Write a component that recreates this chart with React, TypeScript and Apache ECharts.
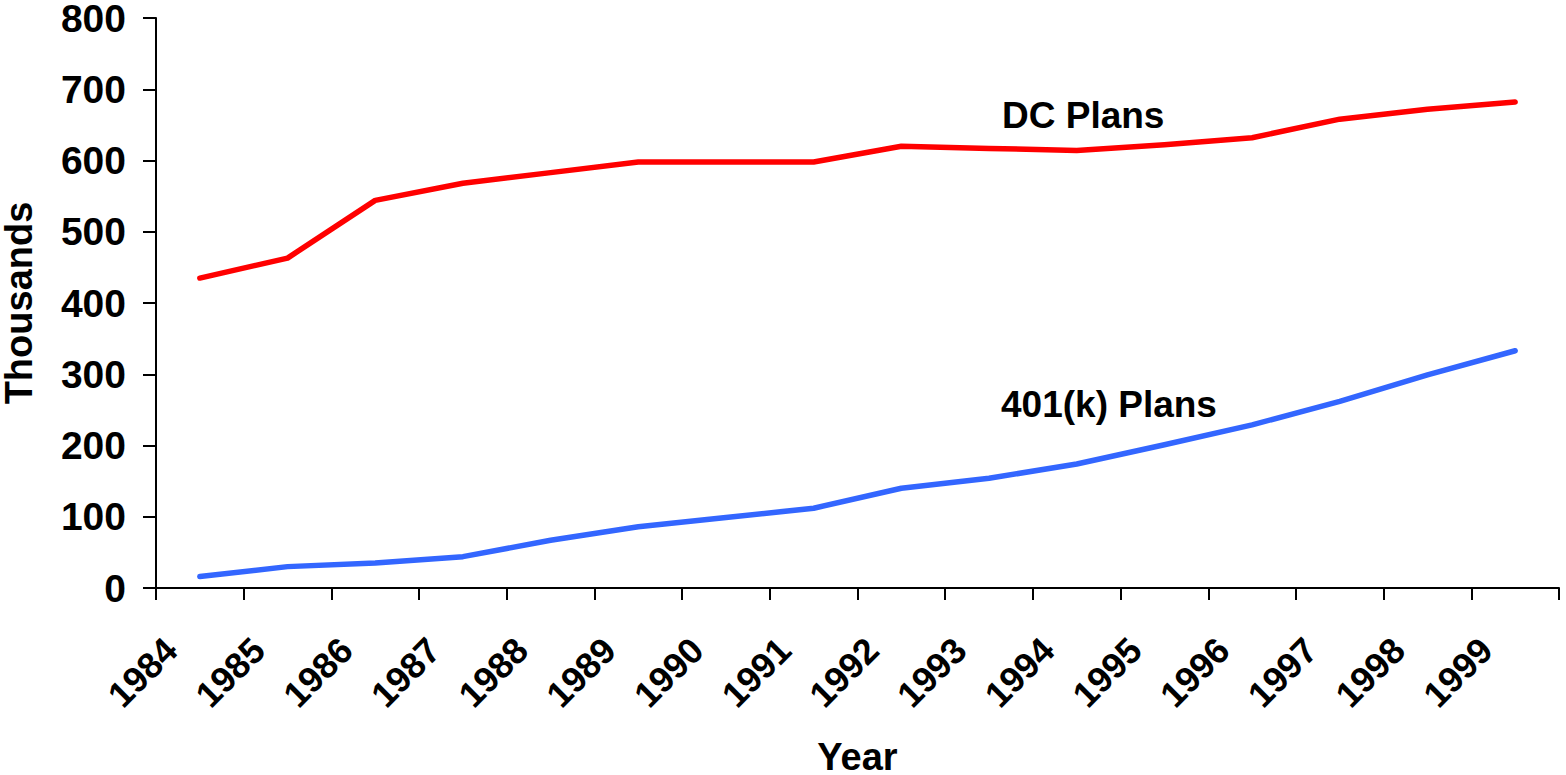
import React, { useEffect, useRef } from "react";
import * as echarts from "echarts";

const years = ["1984","1985","1986","1987","1988","1989","1990","1991","1992","1993","1994","1995","1996","1997","1998","1999"];
const dcPlans = [435, 463, 544, 568, 583, 598, 598, 598, 620, 617, 614, 622, 632, 658, 672, 682];
const k401Plans = [16, 30, 35, 44, 67, 86, 99, 112, 140, 154, 174, 201, 229, 262, 299, 333];
const yTicks = { min: 0, max: 800, interval: 100 };
const seriesLabels = { dc: "DC Plans", k401: "401(k) Plans" };

const FONT = "Arial, 'Liberation Sans', Helvetica, sans-serif";

export default function App() {
  const ref = useRef<HTMLDivElement>(null);
  useEffect(() => {
    if (!ref.current) return;
    const chart = echarts.init(ref.current, null, { renderer: "svg" });
    chart.setOption({
      animation: false,
      backgroundColor: "#ffffff",
      grid: { left: 156, right: 7, top: 18, bottom: 187, containLabel: false, outerBoundsMode: "none" },
      xAxis: {
        type: "category",
        data: years,
        boundaryGap: true,
        name: "Year",
        nameLocation: "middle",
        nameGap: 150,
        nameTextStyle: { fontFamily: FONT, fontWeight: "bold", fontSize: 38, color: "#000" },
        axisLine: { lineStyle: { color: "#000", width: 2 } },
        axisTick: { show: true, length: 12, lineStyle: { color: "#000", width: 2 } },
        axisLabel: {
          rotate: 45,
          margin: 27,
          padding: [0, 41, 0, 0],
          fontFamily: FONT,
          fontWeight: "bold",
          fontSize: 36,
          color: "#000",
          interval: 0,
        },
        splitLine: { show: false },
      },
      yAxis: {
        type: "value",
        min: yTicks.min,
        max: yTicks.max,
        interval: yTicks.interval,
        name: "Thousands",
        nameLocation: "middle",
        nameGap: 118,
        nameRotate: 90,
        nameTextStyle: { fontFamily: FONT, fontWeight: "bold", fontSize: 38, color: "#000" },
        axisLine: { show: true, lineStyle: { color: "#000", width: 2 } },
        axisTick: { show: true, length: 13, lineStyle: { color: "#000", width: 2 } },
        axisLabel: { margin: 30, fontFamily: FONT, fontWeight: "bold", fontSize: 39, color: "#000" },
        splitLine: { show: false },
      },
      series: [
        {
          name: seriesLabels.dc,
          type: "line",
          data: dcPlans,
          symbol: "none",
          lineStyle: { color: "#FF0000", width: 5.5, cap: "round", join: "round" },
          itemStyle: { color: "#FF0000" },
        },
        {
          name: seriesLabels.k401,
          type: "line",
          data: k401Plans,
          symbol: "none",
          lineStyle: { color: "#3366FF", width: 5.5, cap: "round", join: "round" },
          itemStyle: { color: "#3366FF" },
        },
      ],
      graphic: [
        {
          type: "text",
          left: 1002,
          top: 97,
          style: { text: seriesLabels.dc, fontFamily: FONT, fontWeight: "bold", fontSize: 37, fill: "#000" },
        },
        {
          type: "text",
          left: 1001,
          top: 386,
          style: { text: seriesLabels.k401, fontFamily: FONT, fontWeight: "bold", fontSize: 37, fill: "#000" },
        },
      ],
    });
    return () => chart.dispose();
  }, []);
  return (
    <div
      ref={ref}
      style={{ position: "fixed", left: 0, top: 0, width: 1566, height: 775, background: "#fff" }}
    />
  );
}
